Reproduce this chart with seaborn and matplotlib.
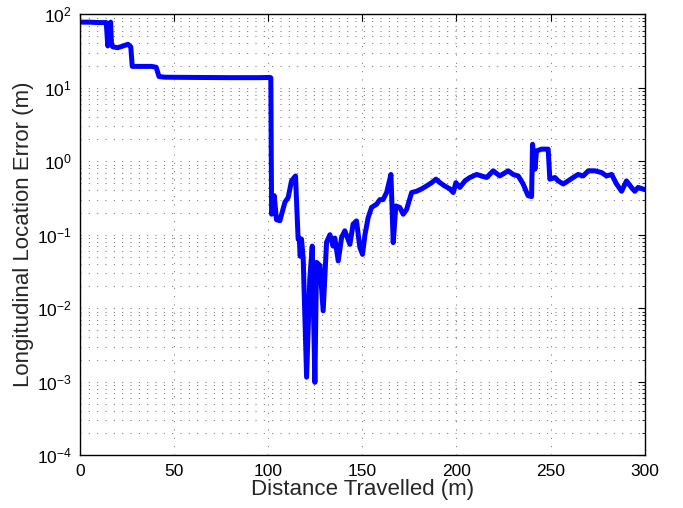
import numpy as np
import pandas as pd
import matplotlib
matplotlib.use("Agg")
import matplotlib.pyplot as plt
import matplotlib.ticker as mticker
import seaborn as sns

# 距離 (m) 與縱向定位誤差 (m)
distance = [
    0, 5, 10, 14, 14.8, 15.3, 15.8, 16.3, 16.8, 17.5, 20, 23, 25.5, 27, 27.8,
    32, 38, 40.5, 42, 45, 60, 80, 95, 101, 101.4, 101.8, 102.5, 103.2, 104.4,
    106.2, 108.9, 110.6, 112.4, 114.5, 115.9, 116.5, 117, 117.7, 118.6, 120.4,
    122.1, 123.4, 124.8, 125.7, 127.5, 129.2, 131, 132.8, 134.5, 135.4, 137.2,
    139, 140.7, 143.4, 145.1, 146.9, 148.7, 150.1, 151.4, 153.1, 154.9, 157.6,
    159.3, 161, 162.9, 165.2, 166.4, 167.8, 169.9, 171.7, 173.5, 176.2, 178.8,
    181.5, 184.1, 186.8, 189.1, 191.2, 193.8, 196.5, 198.3, 199.7, 201.8,
    204.5, 207.1, 210.7, 213.3, 216, 219.5, 223, 227.5, 230.1, 232.8, 235.4,
    238, 239.9, 240.4, 241.7, 242.5, 245.2, 248.7, 249.6, 252.3, 254, 256.7,
    259.3, 262, 264.6, 267.3, 270, 273.5, 277.1, 279.7, 282.4, 285, 287.7,
    290.3, 292.9, 294.7, 296.5, 300,
]
error = [
    78, 78, 77, 77, 37, 75, 40, 78, 38, 36, 35, 37, 39, 36, 19.5,
    19.5, 19.5, 19, 14.2, 13.9, 13.8, 13.7, 13.7, 13.8, 13.6, 0.19, 0.22,
    0.34, 0.16, 0.155, 0.277, 0.32, 0.54, 0.63, 0.087, 0.09, 0.051, 0.087,
    0.047, 0.00115, 0.025, 0.07, 0.00098, 0.042, 0.038, 0.0092, 0.079, 0.10,
    0.07, 0.09, 0.044, 0.092, 0.113, 0.074, 0.139, 0.154, 0.067, 0.054, 0.10,
    0.171, 0.235, 0.26, 0.30, 0.30, 0.375, 0.66, 0.078, 0.246, 0.235, 0.19,
    0.22, 0.375, 0.39, 0.42, 0.46, 0.51, 0.57, 0.51, 0.46, 0.42, 0.375, 0.51,
    0.44, 0.54, 0.60, 0.66, 0.63, 0.60, 0.74, 0.63, 0.74, 0.66, 0.63, 0.49,
    0.34, 0.33, 1.70, 0.78, 1.38, 1.46, 1.46, 0.57, 0.60, 0.54, 0.49, 0.54,
    0.60, 0.66, 0.63, 0.74, 0.74, 0.70, 0.63, 0.66, 0.49, 0.39, 0.54, 0.44,
    0.39, 0.44, 0.41,
]

df = pd.DataFrame({"distance": distance, "error": error})

sns.set_style("white")
plt.rcParams["font.family"] = ["Liberation Sans", "DejaVu Sans"]
plt.rcParams["mathtext.fontset"] = "custom"
plt.rcParams["mathtext.rm"] = "Liberation Sans"
plt.rcParams["mathtext.it"] = "Liberation Sans:italic"

fig = plt.figure(figsize=(6.83, 5.08), dpi=100)
ax = fig.add_axes([0.117, 0.104, 0.827, 0.868])

sns.lineplot(data=df, x="distance", y="error", sort=False, estimator=None,
             color=(0, 0, 1), linewidth=3.6, ax=ax)

ax.set_yscale("log")
ax.set_xlim(0, 300)
ax.set_ylim(1e-4, 1e2)
ax.xaxis.set_major_locator(mticker.MultipleLocator(50))
ax.yaxis.set_major_locator(mticker.LogLocator(base=10, numticks=10))
ax.yaxis.set_minor_locator(mticker.LogLocator(base=10, subs=np.arange(2, 10), numticks=10))
ax.yaxis.set_minor_formatter(mticker.NullFormatter())

# MATLAB 風格點狀格線
grid_kw = dict(color="#777777", linestyle=(0, (1, 7)), linewidth=0.75)
ax.grid(True, which="major", axis="both", **grid_kw)
ax.grid(True, which="minor", axis="y", **grid_kw)

ax.tick_params(which="both", direction="in", top=True, right=True, labelsize=12.5, colors="black")
ax.tick_params(which="major", length=5, pad=6)
ax.tick_params(which="minor", length=2.5)
for s in ax.spines.values():
    s.set_color("black")
    s.set_linewidth(1.0)

ax.set_xlabel("Distance Travelled (m)", fontsize=16, labelpad=0)
ax.set_ylabel("Longitudinal Location Error (m)", fontsize=16, labelpad=2)

fig.savefig("out.png", dpi=100)
